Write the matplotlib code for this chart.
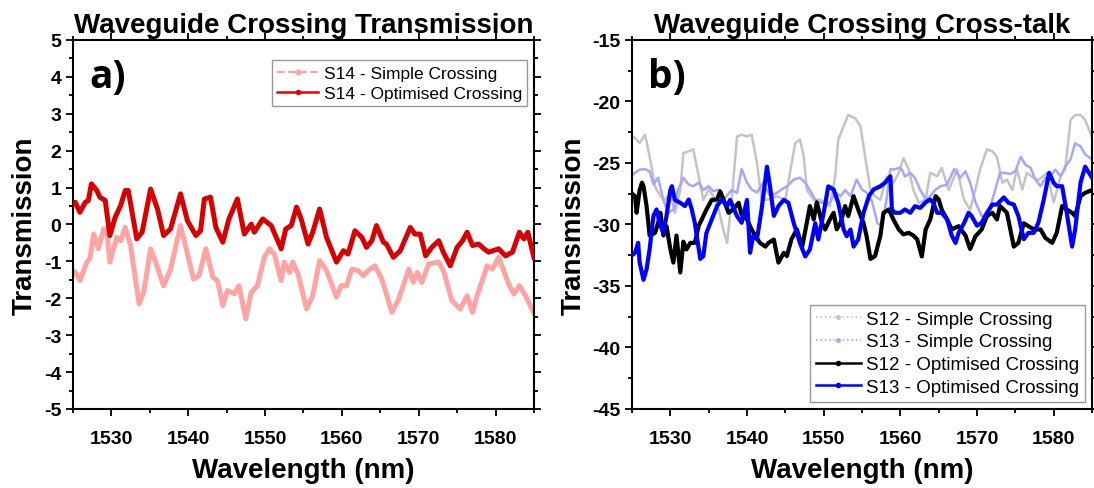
import numpy as np
import matplotlib.pyplot as plt
from matplotlib.lines import Line2D
from matplotlib.ticker import MultipleLocator

plt.rcParams['font.family'] = ['Liberation Sans', 'DejaVu Sans']
plt.rcParams['axes.unicode_minus'] = False

## Panel a) data
wl_s14_opt = [1525.0, 1525.3, 1525.9, 1526.6, 1527.0, 1527.4, 1528.1, 1528.5, 1529.2, 1529.8,
              1530.5, 1531.2, 1531.8, 1532.2, 1533.3, 1534.0, 1535.1, 1536.0, 1536.8,
              1537.7, 1539.0, 1539.9, 1541.0, 1541.6, 1542.1, 1542.9, 1543.6, 1544.5,
              1545.3, 1546.4, 1547.3, 1548.2, 1548.6, 1549.7, 1550.8, 1552.1, 1552.7,
              1553.4, 1554.1, 1554.7, 1555.6, 1556.2, 1557.1, 1558.0, 1559.3, 1560.2,
              1560.8, 1561.7, 1562.6, 1563.2, 1563.9, 1564.5, 1565.4, 1565.8, 1566.7, 1567.6,
              1568.9, 1569.5, 1570.2, 1570.9, 1571.7, 1572.6, 1573.2, 1574.1, 1575.0, 1575.7,
              1576.3, 1577.0, 1577.8, 1578.5, 1579.1, 1580.4, 1581.3, 1582.2, 1583.1, 1583.7,
              1584.2, 1585.0]
s14_opt = [0.55, 0.60, 0.33, 0.60, 0.65, 1.10, 0.92, 0.74, 0.65, -0.30,
           0.20, 0.51, 0.92, 0.92, -0.39, -0.21, 0.96, 0.42, -0.30,
           -0.12, 0.83, 0.10, -0.30, -0.17, 0.69, 0.74, -0.08, -0.48,
           0.15, 0.69, -0.26, 0.01, -0.21, 0.15, -0.03, -0.66, -0.12,
           -0.03, 0.47, 0.15, -0.53, -0.21, 0.42, -0.35, -1.02, -0.71,
           -0.80, -0.17, -0.35, -0.62, -0.44, -0.03, -0.48, -0.53, -0.89, -0.71,
           -0.08, -0.26, -0.26, -0.85, -0.62, -0.44, -0.75, -1.12, -0.62, -0.44,
           -0.21, -0.57, -0.53, -0.66, -0.75, -0.66, -0.85, -0.75, -0.21, -0.39,
           -0.21, -0.90]

wl_s14_simple = [1525.0, 1525.3, 1525.9, 1526.8, 1527.2, 1527.7, 1528.3, 1529.0, 1529.4,
                 1529.8, 1530.7, 1531.2, 1531.8, 1532.5, 1533.6, 1534.2, 1535.1, 1535.7,
                 1536.8, 1537.7, 1539.0, 1539.9, 1540.7, 1541.4, 1542.3, 1543.2, 1543.8,
                 1544.5, 1545.1, 1546.0, 1546.6, 1547.5, 1548.2, 1549.0, 1549.9, 1550.6,
                 1551.2, 1552.1, 1552.5, 1553.2, 1553.6, 1554.3, 1555.4, 1556.2, 1557.1,
                 1558.0, 1559.3, 1559.9, 1560.6, 1561.3, 1562.1, 1562.8, 1563.4, 1564.3,
                 1565.2, 1566.5, 1567.4, 1568.7, 1569.3, 1569.8, 1570.4, 1571.3, 1572.6,
                 1573.3, 1574.3, 1575.4, 1576.3, 1577.0, 1577.6, 1578.9, 1579.6, 1580.4,
                 1581.8, 1582.4, 1583.1, 1583.9, 1585.0]
s14_simple = [-1.25, -1.30, -1.52, -1.02, -0.93, -0.26, -0.66, -0.12, -0.17,
              -1.02, -0.35, -0.44, -0.08, -0.57, -2.15, -1.84, -0.66, -0.98,
              -1.66, -1.21, -0.03, -0.80, -1.48, -1.39, -0.66, -1.43, -1.52,
              -2.20, -1.79, -1.88, -1.66, -2.56, -1.84, -1.66, -0.89, -0.66,
              -0.80, -1.52, -1.02, -1.30, -1.02, -1.34, -2.29, -1.93, -0.98,
              -1.25, -1.97, -1.66, -1.66, -1.21, -1.25, -1.39, -1.25, -1.12,
              -1.48, -2.38, -2.02, -1.21, -1.57, -1.30, -1.57, -1.07, -1.02,
              -1.30, -2.06, -2.29, -1.93, -2.38, -1.93, -1.12, -1.21, -0.89,
              -1.66, -1.88, -1.66, -1.93, -2.40]

## Panel b) data
wl_s12_simple = [1525.0, 1525.4, 1526.0, 1526.7, 1527.3, 1528.0, 1528.7, 1529.3, 1530.0,
                 1530.6, 1531.3, 1531.7, 1532.4, 1533.0, 1533.7, 1534.3, 1535.0, 1535.6,
                 1536.3, 1536.9, 1537.4, 1538.0, 1538.7, 1539.3, 1540.0, 1540.6, 1541.3,
                 1541.9, 1542.8, 1543.9, 1545.0, 1545.6, 1546.3, 1546.9, 1547.4, 1547.8,
                 1548.7, 1549.5, 1550.8, 1551.5, 1551.9, 1552.6, 1553.2, 1554.1, 1554.8,
                 1555.4, 1556.1, 1556.7, 1557.4, 1558.2, 1559.1, 1559.8, 1560.4, 1561.1,
                 1561.7, 1562.4, 1563.3, 1563.9, 1564.8, 1565.4, 1566.3, 1566.7, 1567.4,
                 1568.3, 1569.1, 1569.8, 1570.4, 1571.3, 1572.0, 1572.6, 1573.3, 1573.9,
                 1574.6, 1575.2, 1575.9, 1576.5, 1577.4, 1578.0, 1579.1, 1580.0, 1580.9,
                 1581.5, 1582.2, 1582.8, 1583.5, 1584.1, 1585.0]
s12_simple = [-22.8, -22.97, -23.38, -22.70, -24.46, -26.9, -27.7, -28.0, -27.43,
              -29.05, -27.2, -24.2, -24.05, -23.9, -26.1, -28.0, -27.16, -27.7,
              -28.78, -30.4, -31.5, -28.0, -22.84, -22.70, -22.84, -22.70, -25.0,
              -28.0, -27.97, -27.7, -28.0, -25.8, -23.38, -23.1, -24.46, -27.2,
              -28.0, -27.97, -28.5, -26.1, -23.1, -22.0, -21.1, -21.35, -22.0,
              -24.46, -27.2, -27.7, -28.0, -26.1, -26.62, -25.8, -24.6, -25.54,
              -27.2, -28.24, -27.97, -25.8, -26.08, -25.4, -27.2, -26.62, -25.5,
              -28.0, -28.8, -27.16, -25.5, -23.9, -24.05, -24.5, -26.6, -26.35,
              -27.2, -25.5, -27.16, -25.8, -26.22, -26.4, -25.81, -28.2, -26.08,
              -25.5, -21.5, -21.1, -21.1, -21.5, -22.9]

wl_s13_simple = [1525.0, 1525.4, 1526.0, 1526.7, 1527.3, 1527.8, 1528.4, 1529.1, 1529.7,
                 1530.4, 1531.0, 1531.7, 1532.4, 1533.0, 1533.7, 1534.3, 1535.0, 1535.6,
                 1536.3, 1536.9, 1538.0, 1538.7, 1539.3, 1540.0, 1540.6, 1541.3, 1542.1,
                 1543.0, 1543.9, 1544.5, 1545.2, 1546.1, 1546.9, 1547.6, 1548.2, 1549.1,
                 1550.0, 1550.8, 1551.5, 1552.2, 1552.8, 1553.5, 1554.3, 1555.0, 1555.6,
                 1556.3, 1557.0, 1557.6, 1558.2, 1558.7, 1559.1, 1559.8, 1560.2, 1560.6,
                 1561.3, 1561.9, 1562.6, 1563.3, 1563.9, 1564.6, 1565.2, 1566.1, 1567.0,
                 1567.8, 1568.5, 1569.1, 1569.8, 1570.6, 1571.3, 1572.0, 1573.0, 1573.7,
                 1574.3, 1575.0, 1575.7, 1576.3, 1577.0, 1577.6, 1578.3, 1578.9, 1579.6,
                 1580.2, 1580.9, 1581.5, 1582.2, 1582.8, 1583.5, 1584.1, 1585.0]
s13_simple = [-26.0, -25.8, -25.54, -25.5, -25.68, -26.75, -26.2, -28.0, -29.05,
              -28.8, -27.2, -26.2, -26.76, -26.89, -26.6, -27.2, -26.89, -27.3,
              -27.16, -28.0, -27.2, -27.43, -25.5, -26.6, -27.16, -27.4, -26.62,
              -27.7, -27.43, -27.16, -26.9, -26.35, -26.2, -26.62, -27.2, -28.2,
              -28.24, -28.24, -27.4, -27.70, -27.2, -27.70, -26.35, -27.16, -27.4,
              -28.11, -29.9, -30.1, -27.97, -25.5, -25.54, -25.4, -25.54, -26.1,
              -25.8, -26.22, -27.2, -27.97, -27.70, -27.16, -26.9, -26.76, -25.5,
              -26.2, -25.68, -26.6, -28.2, -29.3, -29.32, -28.0, -25.8, -25.81,
              -25.9, -25.68, -24.5, -25.14, -25.4, -26.35, -26.9, -26.22, -26.1,
              -25.54, -26.08, -25.3, -24.7, -23.4, -23.65, -24.3, -24.7]

wl_s12_opt = [1525.0, 1525.4, 1525.6, 1526.0, 1526.3, 1526.5, 1526.9, 1527.3, 1528.0,
              1528.4, 1528.7, 1529.1, 1529.5, 1530.0, 1530.4, 1530.8, 1531.3, 1531.7,
              1532.1, 1532.6, 1533.2, 1533.7, 1534.1, 1534.7, 1535.4, 1536.1, 1536.5,
              1537.1, 1537.6, 1538.2, 1538.9, 1539.3, 1540.0, 1540.6, 1541.1, 1541.7,
              1542.4, 1542.8, 1543.5, 1544.1, 1544.8, 1545.2, 1545.8, 1546.5, 1547.2,
              1547.8, 1548.2, 1548.7, 1549.1, 1549.8, 1550.2, 1550.8, 1551.3, 1551.7,
              1552.2, 1552.8, 1553.2, 1553.9, 1554.5, 1555.2, 1555.6, 1556.1, 1556.7,
              1557.4, 1557.8, 1558.5, 1559.1, 1559.8, 1560.4, 1561.1, 1561.7, 1562.2,
              1562.8, 1563.3, 1563.9, 1564.6, 1565.0, 1565.4, 1566.1, 1566.7, 1567.6,
              1568.5, 1569.1, 1569.8, 1570.6, 1571.3, 1572.0, 1572.6, 1573.0, 1573.9,
              1574.8, 1575.4, 1576.1, 1576.7, 1577.4, 1578.3, 1578.9, 1579.8, 1580.4,
              1581.1, 1581.7, 1582.4, 1582.8, 1583.5, 1584.1, 1585.0]
s12_opt = [-27.5, -27.7, -29.05, -27.2, -26.6, -26.89, -28.5, -30.9, -30.68,
           -29.9, -29.05, -30.9, -30.14, -32.0, -33.1, -30.9, -33.9, -31.4,
           -32.03, -31.5, -31.49, -30.1, -29.59, -28.8, -28.0, -27.97, -27.3,
           -28.24, -29.05, -28.78, -28.24, -29.2, -29.59, -30.4, -30.95, -31.5,
           -31.8, -31.49, -31.22, -33.1, -32.30, -32.57, -31.2, -30.4, -31.8,
           -29.86, -28.5, -29.59, -28.2, -29.9, -30.41, -29.6, -29.05, -30.4,
           -29.86, -28.5, -29.32, -27.7, -28.78, -29.9, -30.95, -32.8, -32.57,
           -30.9, -29.05, -28.78, -29.6, -30.41, -30.8, -30.68, -30.9, -31.22,
           -32.6, -30.41, -29.59, -27.7, -27.97, -28.8, -29.59, -30.4, -30.14,
           -30.9, -32.0, -30.95, -30.41, -29.3, -29.05, -29.59, -28.5, -29.05,
           -31.8, -31.49, -29.9, -30.14, -30.4, -30.41, -31.08, -31.5, -30.68,
           -28.5, -28.78, -29.05, -29.32, -27.7, -27.43, -27.2]

wl_s13_opt = [1525.0, 1525.4, 1525.8, 1526.0, 1526.5, 1526.9, 1527.3, 1527.8, 1528.2,
              1528.7, 1529.1, 1529.5, 1530.0, 1530.2, 1530.6, 1531.3, 1531.9, 1532.4,
              1532.8, 1533.2, 1533.9, 1534.3, 1534.7, 1535.4, 1536.1, 1536.7, 1537.4,
              1537.8, 1538.7, 1539.3, 1540.0, 1540.4, 1540.8, 1541.3, 1541.9, 1542.6,
              1543.0, 1543.5, 1544.1, 1544.8, 1545.4, 1546.1, 1546.9, 1547.6, 1548.2,
              1548.9, 1549.3, 1550.0, 1550.6, 1551.3, 1551.9, 1552.6, 1553.0, 1553.5,
              1553.9, 1554.5, 1555.2, 1555.9, 1556.5, 1557.4, 1558.0, 1558.7, 1558.9,
              1559.3, 1560.0, 1560.6, 1561.3, 1561.9, 1562.6, 1563.3, 1563.9, 1564.3,
              1564.8, 1565.4, 1566.1, 1566.7, 1567.2, 1567.6, 1568.3, 1568.9, 1569.3,
              1570.0, 1570.6, 1571.3, 1572.0, 1572.6, 1573.5, 1574.1, 1574.8, 1575.4,
              1576.1, 1576.7, 1577.4, 1578.0, 1578.7, 1579.4, 1580.0, 1580.4, 1581.1,
              1581.7, 1582.4, 1582.8, 1583.5, 1584.1, 1585.0]
s13_opt = [-32.5, -32.3, -31.49, -33.1, -34.5, -33.65, -32.0, -29.3, -28.78,
           -30.1, -30.68, -29.3, -27.2, -26.89, -28.0, -28.24, -28.5, -27.97,
           -28.78, -29.9, -32.8, -32.57, -30.7, -29.59, -28.5, -27.97, -28.51,
           -28.0, -29.32, -29.86, -28.0, -32.3, -30.95, -31.2, -28.78, -25.3,
           -26.89, -29.3, -28.51, -28.0, -28.24, -29.9, -31.5, -32.6, -32.03,
           -29.9, -31.22, -29.05, -26.9, -27.16, -28.24, -30.4, -30.95, -30.41,
           -31.8, -31.22, -29.05, -27.7, -27.16, -26.89, -26.6, -26.08, -28.8,
           -29.05, -29.05, -28.78, -29.05, -28.51, -28.65, -28.2, -27.97, -28.24,
           -29.05, -29.05, -29.59, -30.9, -31.5, -30.68, -29.9, -29.05, -29.32,
           -30.1, -29.86, -29.05, -28.38, -28.38, -27.8, -28.24, -28.38, -29.32,
           -31.2, -30.68, -30.68, -29.86, -28.0, -25.8, -26.62, -26.89, -26.89,
           -29.05, -31.8, -30.41, -26.6, -25.3, -26.2]

## Colours
c_dark_red = '#d80000'
c_pink = '#ffa3a3'
c_gray = '#c4c4c4'
c_light_blue = '#a6a6ff'
c_blue = '#0000ff'

fig = plt.figure(figsize=(10.94, 4.89), dpi=100)
ax_a = fig.add_axes([0.0667, 0.1616, 0.4214, 0.7546])
ax_b = fig.add_axes([0.5777, 0.1616, 0.4205, 0.7546])

def style_axes(ax, ylim, ymajor, yminor):
    ax.set_xlim(1525, 1585)
    ax.set_ylim(*ylim)
    ax.xaxis.set_major_locator(MultipleLocator(10))
    ax.xaxis.set_minor_locator(MultipleLocator(5))
    ax.yaxis.set_major_locator(MultipleLocator(ymajor))
    ax.yaxis.set_minor_locator(MultipleLocator(yminor))
    ax.tick_params(which='both', direction='out', top=True, right=True,
                   width=1.3, labelsize=14)
    ax.tick_params(which='major', length=5)
    ax.tick_params(which='minor', length=3)
    ax.tick_params(axis='x', which='major', pad=10)
    for lab in ax.get_xticklabels() + ax.get_yticklabels():
        lab.set_fontweight('bold')
    for sp_ in ax.spines.values():
        sp_.set_linewidth(1.5)
    ax.set_xlabel('Wavelength (nm)', fontsize=20, fontweight='bold', labelpad=7)
    ax.set_ylabel('Transmission', fontsize=20, fontweight='bold', labelpad=4)

## Panel a)
ax_a.plot(wl_s14_simple, s14_simple, color=c_pink, lw=3.6, solid_joinstyle='round', zorder=2)
ax_a.plot(wl_s14_opt, s14_opt, color=c_dark_red, lw=3.6, solid_joinstyle='round', zorder=3)
style_axes(ax_a, (-5, 5), 1, 0.5)
ax_a.set_title('Waveguide Crossing Transmission', fontsize=20, fontweight='bold', pad=6)
ax_a.text(0.035, 0.955, 'a)', transform=ax_a.transAxes, fontsize=28,
          fontweight='bold', family='Open Sans', va='top', ha='left')
h_a = [Line2D([], [], color=c_pink, ls='--', lw=1.5, marker='o', ms=3.5),
       Line2D([], [], color='#ee0000', ls='-', lw=1.8, marker='o', ms=3)]
ax_a.legend(h_a, ['S14 - Simple Crossing', 'S14 - Optimised Crossing'],
            loc='upper right', bbox_to_anchor=(0.985, 0.945), fontsize=12.5,
            fancybox=False, edgecolor='#999999', framealpha=1, handlelength=2.4,
            handletextpad=0.3, labelspacing=0.28, borderpad=0.3, borderaxespad=0)

## Panel b)
ax_b.plot(wl_s12_simple, s12_simple, color=c_gray, lw=1.8, solid_joinstyle='round', zorder=2)
ax_b.plot(wl_s13_simple, s13_simple, color=c_light_blue, lw=1.8, solid_joinstyle='round', zorder=2)
ax_b.plot(wl_s12_opt, s12_opt, color='black', lw=3.0, solid_joinstyle='round', zorder=3)
ax_b.plot(wl_s13_opt, s13_opt, color=c_blue, lw=3.0, solid_joinstyle='round', zorder=4)
style_axes(ax_b, (-45, -15), 5, 2.5)
ax_b.set_title('Waveguide Crossing Cross-talk', fontsize=20, fontweight='bold', pad=6)
ax_b.text(0.035, 0.955, 'b)', transform=ax_b.transAxes, fontsize=28,
          fontweight='bold', family='Open Sans', va='top', ha='left')
h_b = [Line2D([], [], color=c_gray, ls=':', lw=1.2, marker='o', ms=2.5),
       Line2D([], [], color=c_light_blue, ls=':', lw=1.2, marker='o', ms=2.5),
       Line2D([], [], color='black', ls='-', lw=1.8, marker='o', ms=3),
       Line2D([], [], color=c_blue, ls='-', lw=1.8, marker='o', ms=3)]
ax_b.legend(h_b, ['S12 - Simple Crossing', 'S13 - Simple Crossing',
                  'S12 - Optimised Crossing', 'S13 - Optimised Crossing'],
            loc='lower right', bbox_to_anchor=(0.985, 0.02), fontsize=13.5,
            fancybox=False, edgecolor='#999999', framealpha=1, handlelength=2.4,
            handletextpad=0.3, labelspacing=0.3, borderpad=0.3, borderaxespad=0)

plt.savefig('out.png', dpi=100)
